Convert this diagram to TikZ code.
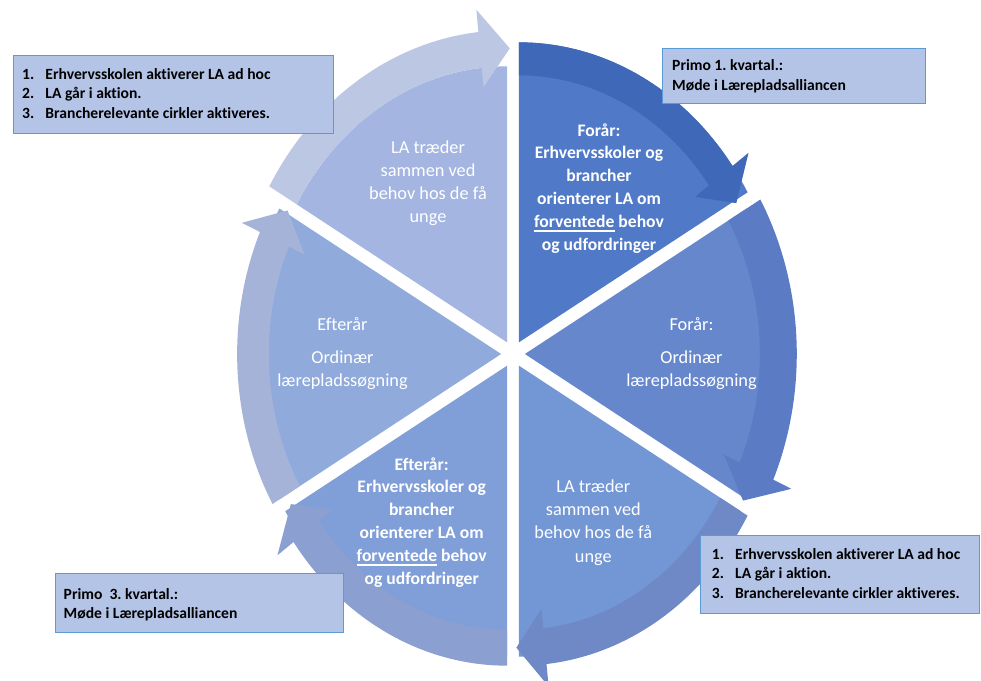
\documentclass[tikz,border=0pt]{standalone}
\usepackage{fontspec}
\setmainfont{Carlito}[Ligatures=NoCommon]
\frenchspacing
\definecolor{secTL}{HTML}{A3B5E0}
\definecolor{arrTL}{HTML}{BCC7E4}
\definecolor{secTR}{HTML}{5079C8}
\definecolor{arrTR}{HTML}{3F68B8}
\definecolor{secR}{HTML}{6787CD}
\definecolor{arrR}{HTML}{5B7CC4}
\definecolor{secBR}{HTML}{7397D4}
\definecolor{arrBR}{HTML}{6F89C7}
\definecolor{secBL}{HTML}{809ED7}
\definecolor{arrBL}{HTML}{8B9FD0}
\definecolor{secL}{HTML}{8FAADB}
\definecolor{arrL}{HTML}{A6B3D8}
\definecolor{boxfill}{HTML}{B4C4E7}
\definecolor{boxline}{HTML}{5B9BD5}
% #1 start angle, #2 end angle, #3 sector colour, #4 arrow colour,
% #5 sector radius, #6 band inner radius, #7 band outer radius
\newcommand\cycseg[7]{%
 \begin{scope}[shift={({(#1+#2)/2}:0.045)}]
  \fill[#3] (0,0) -- plot[domain=#1:#2,samples=40] ({#5*cos(\x)},{#5*sin(\x)}) -- cycle;
  \fill[#4] plot[domain=#1:#2+6,samples=40] ({#7*cos(\x)},{#7*sin(\x)})
   -- ({(#7+0.075)*cos(#2+6)},{(#7+0.075)*sin(#2+6)})
   -- ({(#6+#7)/2*cos(#2-0.6)},{(#6+#7)/2*sin(#2-0.6)})
   -- ({(#6-0.065)*cos(#2+6)},{(#6-0.065)*sin(#2+6)})
   -- plot[domain=#2+6:#1,samples=40] ({#6*cos(\x)},{#6*sin(\x)}) -- cycle;
 \end{scope}}
\newcommand\myul[1]{\setbox0=\hbox{#1}\rlap{\rule[-4.5pt]{\wd0}{1.3pt}}\box0\relax}
\newcommand\numitem[1]{\makebox[23.3pt][l]{#1}}
\tikzset{
 lighttxt/.style={text=white, inner sep=0pt, anchor=base, font=\fontsize{18.3}{23.1}\selectfont},
 boldtxt/.style={text=white, inner sep=0pt, anchor=base, font=\fontsize{17.6}{22.8}\selectfont\bfseries},
 infobox/.style={draw=boxline, fill=boxfill, line width=1.1pt, inner sep=0pt, anchor=north west},
 boxtxt/.style={text=black, inner sep=0pt, anchor=base west, font=\fontsize{15.6}{19.5}\selectfont\bfseries},
}
\begin{document}
\begin{tikzpicture}[x=1pt,y=-1pt]
\useasboundingbox (0,0) rectangle (981,680);
\fill[white] (0,0) rectangle (981,680);
\begin{scope}[shift={(513,354)}, x=264pt, y=300pt]
 \cycseg{150}{90}{secTL}{arrTL}{0.92}{0.92}{1.04}
 \cycseg{210}{150}{secL}{arrL}{0.97}{0.88}{1.0}
 \cycseg{-90}{-150}{secBL}{arrBL}{0.97}{0.88}{1.0}
 \cycseg{-30}{-90}{secBR}{arrBR}{0.97}{0.88}{1.0}
 \cycseg{30}{-30}{secR}{arrR}{0.97}{0.89}{1.03}
 \cycseg{90}{30}{secTR}{arrTR}{1.0}{0.89}{1.0}
\end{scope}
% sector texts
\node[lighttxt] (tlText) at (428,153.3) {\begin{tabular}[t]{@{}c@{}}LA træder\\sammen ved\\behov hos de få\\unge\end{tabular}};
\node[boldtxt] (trText) at (599,136) {\begin{tabular}[t]{@{}c@{}}Forår:\\Erhvervsskoler og\\brancher\\orienterer LA om\\\myul{forventede} behov\\og udfordringer\end{tabular}};
\node[lighttxt] (rText) at (691.5,330) {\begin{tabular}[t]{@{}c@{}}Forår:\\[10pt]Ordinær\\lærepladssøgning\end{tabular}};
\node[lighttxt] (brText) at (593.3,492.7) {\begin{tabular}[t]{@{}c@{}}LA træder\\sammen ved\\behov hos de få\\unge\end{tabular}};
\node[boldtxt] (blText) at (421.7,470) {\begin{tabular}[t]{@{}c@{}}Efterår:\\Erhvervsskoler og\\brancher\\orienterer LA om\\\myul{forventede} behov\\og udfordringer\end{tabular}};
\node[lighttxt] (lText) at (342.5,330) {\begin{tabular}[t]{@{}c@{}}Efterår\\[10pt]Ordinær\\lærepladssøgning\end{tabular}};
% boxes
\node[infobox, minimum width=320pt, minimum height=78pt] (boxA) at (12.5,55) {};
\node[boxtxt] (boxAtext) at (22,79.3) {\begin{tabular}[t]{@{}l@{}}\numitem{1.}Erhvervsskolen aktiverer LA ad hoc\\\numitem{2.}LA går i aktion.\\\numitem{3.}Brancherelevante cirkler aktiveres.\end{tabular}};
\node[infobox, minimum width=263pt, minimum height=55pt] (boxB) at (662,48) {};
\node[boxtxt] (boxBtext) at (672,70.7) {\begin{tabular}[t]{@{}l@{}}Primo 1. kvartal.:\\Møde i Lærepladsalliancen\end{tabular}};
\node[infobox, minimum width=279pt, minimum height=78pt] (boxC) at (700,535) {};
\node[boxtxt] (boxCtext) at (711.7,559) {\begin{tabular}[t]{@{}l@{}}\numitem{1.}Erhvervsskolen aktiverer LA ad hoc\\\numitem{2.}LA går i aktion.\\\numitem{3.}Brancherelevante cirkler aktiveres.\end{tabular}};
\node[infobox, minimum width=288pt, minimum height=59pt] (boxD) at (55,573) {};
\node[boxtxt] (boxDtext) at (63.5,599) {\begin{tabular}[t]{@{}l@{}}Primo~~3. kvartal.:\\Møde i Lærepladsalliancen\end{tabular}};
\end{tikzpicture}
\end{document}
